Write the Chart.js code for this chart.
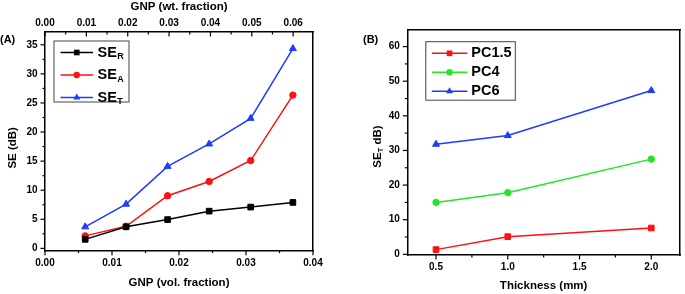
<!DOCTYPE html>
<html>
<head>
<meta charset="utf-8">
<script src="https://cdn.jsdelivr.net/npm/chart.js"></script>
<style>
  body { margin: 0; background: #fff; }
  #wrapA { position: absolute; left: 0; top: 0; width: 340px; height: 294px; }
  #wrapB { position: absolute; left: 340px; top: 0; width: 345px; height: 294px; }
</style>
</head>
<body>
<div id="wrapA"><canvas id="chartA" width="340" height="294"></canvas></div>
<div id="wrapB"><canvas id="chartB" width="345" height="294"></canvas></div>
<script>
// panel A data
const volFraction = [0.0060, 0.0121, 0.0183, 0.0245, 0.0307, 0.0370];
const seR = [1.55, 3.7, 4.95, 6.4, 7.1, 7.9];
const seA = [2.15, 3.8, 9.05, 11.5, 15.1, 26.35];
const seT = [3.7, 7.6, 14.1, 17.95, 22.35, 34.35];
const namesA = ['SE_R', 'SE_A', 'SE_T'];

// panel B data
const thickness = [0.5, 1.0, 2.0];
const pc15 = [1.35, 5.1, 7.6];
const pc4 = [15.0, 17.8, 27.5];
const pc6 = [31.8, 34.3, 47.3];
const namesB = ['PC1.5', 'PC4', 'PC6'];

const FONT = "'Liberation Sans', Arial, sans-serif";
Chart.defaults.font.family = FONT;
Chart.defaults.font.size = 10;
Chart.defaults.font.weight = 'bold';
Chart.defaults.color = '#000';

const RED = '#ff1010', BLUE = '#1c3cff', GREEN = '#22e622', BLACK = '#000';

function pts(xs, ys) { return xs.map((x, i) => ({x: x, y: ys[i]})); }

function series(label, xs, ys, color, style, r) {
  return {
    label: label, data: pts(xs, ys), showLine: true,
    borderColor: color, backgroundColor: color, borderWidth: 1.5,
    pointStyle: style, pointRadius: r, pointBackgroundColor: color,
    pointBorderColor: color, pointBorderWidth: 1
  };
}

// text with "_" subscript
function subText(ctx, label, x, y, size) {
  const parts = label.split('_');
  ctx.font = 'bold ' + size + 'px ' + FONT;
  ctx.textBaseline = 'middle';
  ctx.textAlign = 'left';
  ctx.fillText(parts[0], x, y);
  if (parts[1]) {
    const w = ctx.measureText(parts[0]).width;
    ctx.font = 'bold ' + (size * 0.62) + 'px ' + FONT;
    ctx.fillText(parts[1], x + w + 0.5, y + size * 0.3);
  }
}

function marker(ctx, style, x, y, r) {
  ctx.beginPath();
  if (style === 'rect') {
    const h = r * Math.SQRT1_2;
    ctx.rect(x - h, y - h, 2 * h, 2 * h);
  } else if (style === 'triangle') {
    ctx.moveTo(x, y - r);
    ctx.lineTo(x + r * 0.87, y + r * 0.5);
    ctx.lineTo(x - r * 0.87, y + r * 0.5);
    ctx.closePath();
  } else {
    ctx.arc(x, y, r, 0, Math.PI * 2);
  }
  ctx.fill();
}

// framed legend inside the plot
const boxLegend = {
  id: 'boxLegend',
  afterDraw(chart, args, o) {
    const ctx = chart.ctx, ca = chart.chartArea;
    const x0 = ca.left + o.dx, y0 = ca.top + o.dy;
    ctx.save();
    ctx.strokeStyle = '#444';
    ctx.lineWidth = 1;
    ctx.strokeRect(x0, y0, o.w, o.h);
    chart.data.datasets.forEach((ds, i) => {
      const y = y0 + o.first + i * o.gap;
      ctx.strokeStyle = ds.borderColor;
      ctx.lineWidth = 1.5;
      ctx.beginPath();
      ctx.moveTo(x0 + o.l0, y);
      ctx.lineTo(x0 + o.l1, y);
      ctx.stroke();
      ctx.fillStyle = ds.borderColor;
      marker(ctx, ds.pointStyle, x0 + (o.l0 + o.l1) / 2, y, ds.pointRadius);
      ctx.fillStyle = '#000';
      subText(ctx, ds.label, x0 + o.tx, y, o.size);
    });
    ctx.restore();
  }
};

// major / minor tick marks
const frameTicks = {
  id: 'frameTicks',
  afterDraw(chart, args, o) {
    const ctx = chart.ctx;
    ctx.save();
    ctx.strokeStyle = '#000';
    ctx.lineWidth = 1.2;
    o.axes.forEach(a => {
      const s = chart.scales[a.id];
      const n0 = Math.ceil(s.min / a.minor - 1e-6), n1 = Math.floor(s.max / a.minor + 1e-6);
      for (let n = n0; n <= n1; n++) {
        const v = n * a.minor;
        const major = Math.abs(v / a.major - Math.round(v / a.major)) < 1e-6;
        const len = major ? a.len : a.len * 0.55;
        const p = s.getPixelForValue(v);
        ctx.beginPath();
        if (s.isHorizontal()) {
          const y = s.position === 'top' ? s.bottom : s.top;
          ctx.moveTo(p, y);
          ctx.lineTo(p, y + a.dir * len);
        } else {
          ctx.moveTo(s.right, p);
          ctx.lineTo(s.right - a.dir * len, p);
        }
        ctx.stroke();
      }
    });
    ctx.restore();
  }
};

// rotated y title and panel letter
const annot = {
  id: 'annot',
  afterDraw(chart, args, o) {
    const ctx = chart.ctx, ca = chart.chartArea;
    ctx.save();
    ctx.fillStyle = '#000';
    ctx.translate(ca.left + o.tdx, (ca.top + ca.bottom) / 2 + o.tdy);
    ctx.rotate(-Math.PI / 2);
    const parts = o.title;
    let total = 0;
    parts.forEach(p => {
      ctx.font = 'bold ' + (p.sub ? 7.5 : 11.5) + 'px ' + FONT;
      total += ctx.measureText(p.t).width;
    });
    let x = -total / 2;
    ctx.textBaseline = 'middle';
    ctx.textAlign = 'left';
    parts.forEach(p => {
      ctx.font = 'bold ' + (p.sub ? 7.5 : 11.5) + 'px ' + FONT;
      ctx.fillText(p.t, x, p.sub ? 3.5 : 0);
      x += ctx.measureText(p.t).width;
    });
    ctx.restore();
    ctx.save();
    ctx.font = 'bold 11px ' + FONT;
    ctx.textBaseline = 'middle';
    ctx.textAlign = 'left';
    ctx.fillText(o.panel, o.px, o.py);
    ctx.restore();
  }
};

function fixSize(prop, v) { return function (s) { s[prop] = v; }; }

const frameBorder = {display: true, color: '#000', width: 1.5};
const noGrid = {display: false, drawTicks: false, drawOnChartArea: false};

new Chart(document.getElementById('chartA'), {
  type: 'scatter',
  data: {
    datasets: [
      series(namesA[0], volFraction, seR, BLACK, 'rect', 4),
      series(namesA[1], volFraction, seA, RED, 'circle', 3.2),
      series(namesA[2], volFraction, seT, BLUE, 'triangle', 4)
    ]
  },
  options: {
    responsive: false,
    animation: false,
    devicePixelRatio: 1,
    layout: {padding: 0},
    plugins: {
      legend: {display: false},
      tooltip: {enabled: false},
      boxLegend: {dx: 9, dy: 9, w: 75, h: 61, first: 11.5, gap: 22.5, l0: 6.5, l1: 39, tx: 43.5, size: 14.5},
      frameTicks: {axes: [
        {id: 'x', minor: 0.005, major: 0.01, len: 4.5, dir: 1},
        {id: 'x2', minor: 0.005, major: 0.01, len: 4.5, dir: 1},
        {id: 'y', minor: 2.5, major: 5, len: 4.5, dir: 1}
      ]},
      annot: {title: [{t: 'SE (dB)'}], tdx: -32.5, tdy: 6.5, panel: '(A)', px: 0, py: 40}
    },
    scales: {
      x: {
        type: 'linear', position: 'bottom', min: 0, max: 0.04,
        ticks: {stepSize: 0.01, includeBounds: false, padding: 6.5, maxRotation: 0,
          callback: v => v.toFixed(2)},
        grid: noGrid, border: frameBorder,
        title: {display: true, text: 'GNP (vol. fraction)', font: {size: 11.5, weight: 'bold'}, padding: {top: 0, bottom: 4.5}},
        afterFit: fixSize('height', 43.3)
      },
      x2: {
        type: 'linear', position: 'top', min: 0, max: 0.0648,
        ticks: {stepSize: 0.01, includeBounds: false, padding: 3, maxRotation: 0,
          callback: v => v.toFixed(2)},
        grid: noGrid, border: frameBorder,
        title: {display: true, text: 'GNP (wt. fraction)', font: {size: 11.5, weight: 'bold'}, padding: {top: 0, bottom: 0}},
        afterFit: fixSize('height', 32)
      },
      y: {
        type: 'linear', position: 'left', min: -0.4, max: 37.2,
        ticks: {stepSize: 5, includeBounds: false, padding: 7.5},
        grid: noGrid, border: frameBorder,
        afterFit: fixSize('width', 45)
      },
      y2: {
        type: 'linear', position: 'right',
        ticks: {display: false},
        grid: noGrid, border: frameBorder,
        afterFit: fixSize('width', 27)
      }
    }
  },
  plugins: [boxLegend, frameTicks, annot]
});

new Chart(document.getElementById('chartB'), {
  type: 'scatter',
  data: {
    datasets: [
      series(namesB[0], thickness, pc15, RED, 'rect', 4),
      series(namesB[1], thickness, pc4, GREEN, 'circle', 3.2),
      series(namesB[2], thickness, pc6, BLUE, 'triangle', 4)
    ]
  },
  options: {
    responsive: false,
    animation: false,
    devicePixelRatio: 1,
    layout: {padding: 0},
    plugins: {
      legend: {display: false},
      tooltip: {enabled: false},
      boxLegend: {dx: 18.5, dy: 11.7, w: 89.5, h: 58.5, first: 11.6, gap: 19, l0: 6, l1: 41.5, tx: 45.5, size: 14.5},
      frameTicks: {axes: [
        {id: 'x', minor: 0.25, major: 0.5, len: 4.5, dir: 1},
        {id: 'y', minor: 5, major: 10, len: 4.5, dir: 1}
      ]},
      annot: {title: [{t: 'SE'}, {t: 'T', sub: true}, {t: ' dB)'}], tdx: -29.5, tdy: 4, panel: '(B)', px: 23, py: 40}
    },
    scales: {
      x: {
        type: 'linear', position: 'bottom', min: 0.3, max: 2.2,
        ticks: {stepSize: 0.5, includeBounds: false, padding: 6.5, maxRotation: 0,
          callback: v => v.toFixed(1)},
        grid: noGrid, border: frameBorder,
        title: {display: true, text: 'Thickness (mm)', font: {size: 11.5, weight: 'bold'}, padding: {top: 0, bottom: 1.5}},
        afterFit: fixSize('height', 39)
      },
      x2: {
        type: 'linear', position: 'top',
        ticks: {display: false},
        grid: noGrid, border: frameBorder,
        afterFit: fixSize('height', 30)
      },
      y: {
        type: 'linear', position: 'left', min: -0.2, max: 64.8,
        ticks: {stepSize: 10, includeBounds: false, padding: 7.5},
        grid: noGrid, border: frameBorder,
        afterFit: fixSize('width', 67.3)
      },
      y2: {
        type: 'linear', position: 'right',
        ticks: {display: false},
        grid: noGrid, border: frameBorder,
        afterFit: fixSize('width', 1.7)
      }
    }
  },
  plugins: [boxLegend, frameTicks, annot]
});
</script>
</body>
</html>
